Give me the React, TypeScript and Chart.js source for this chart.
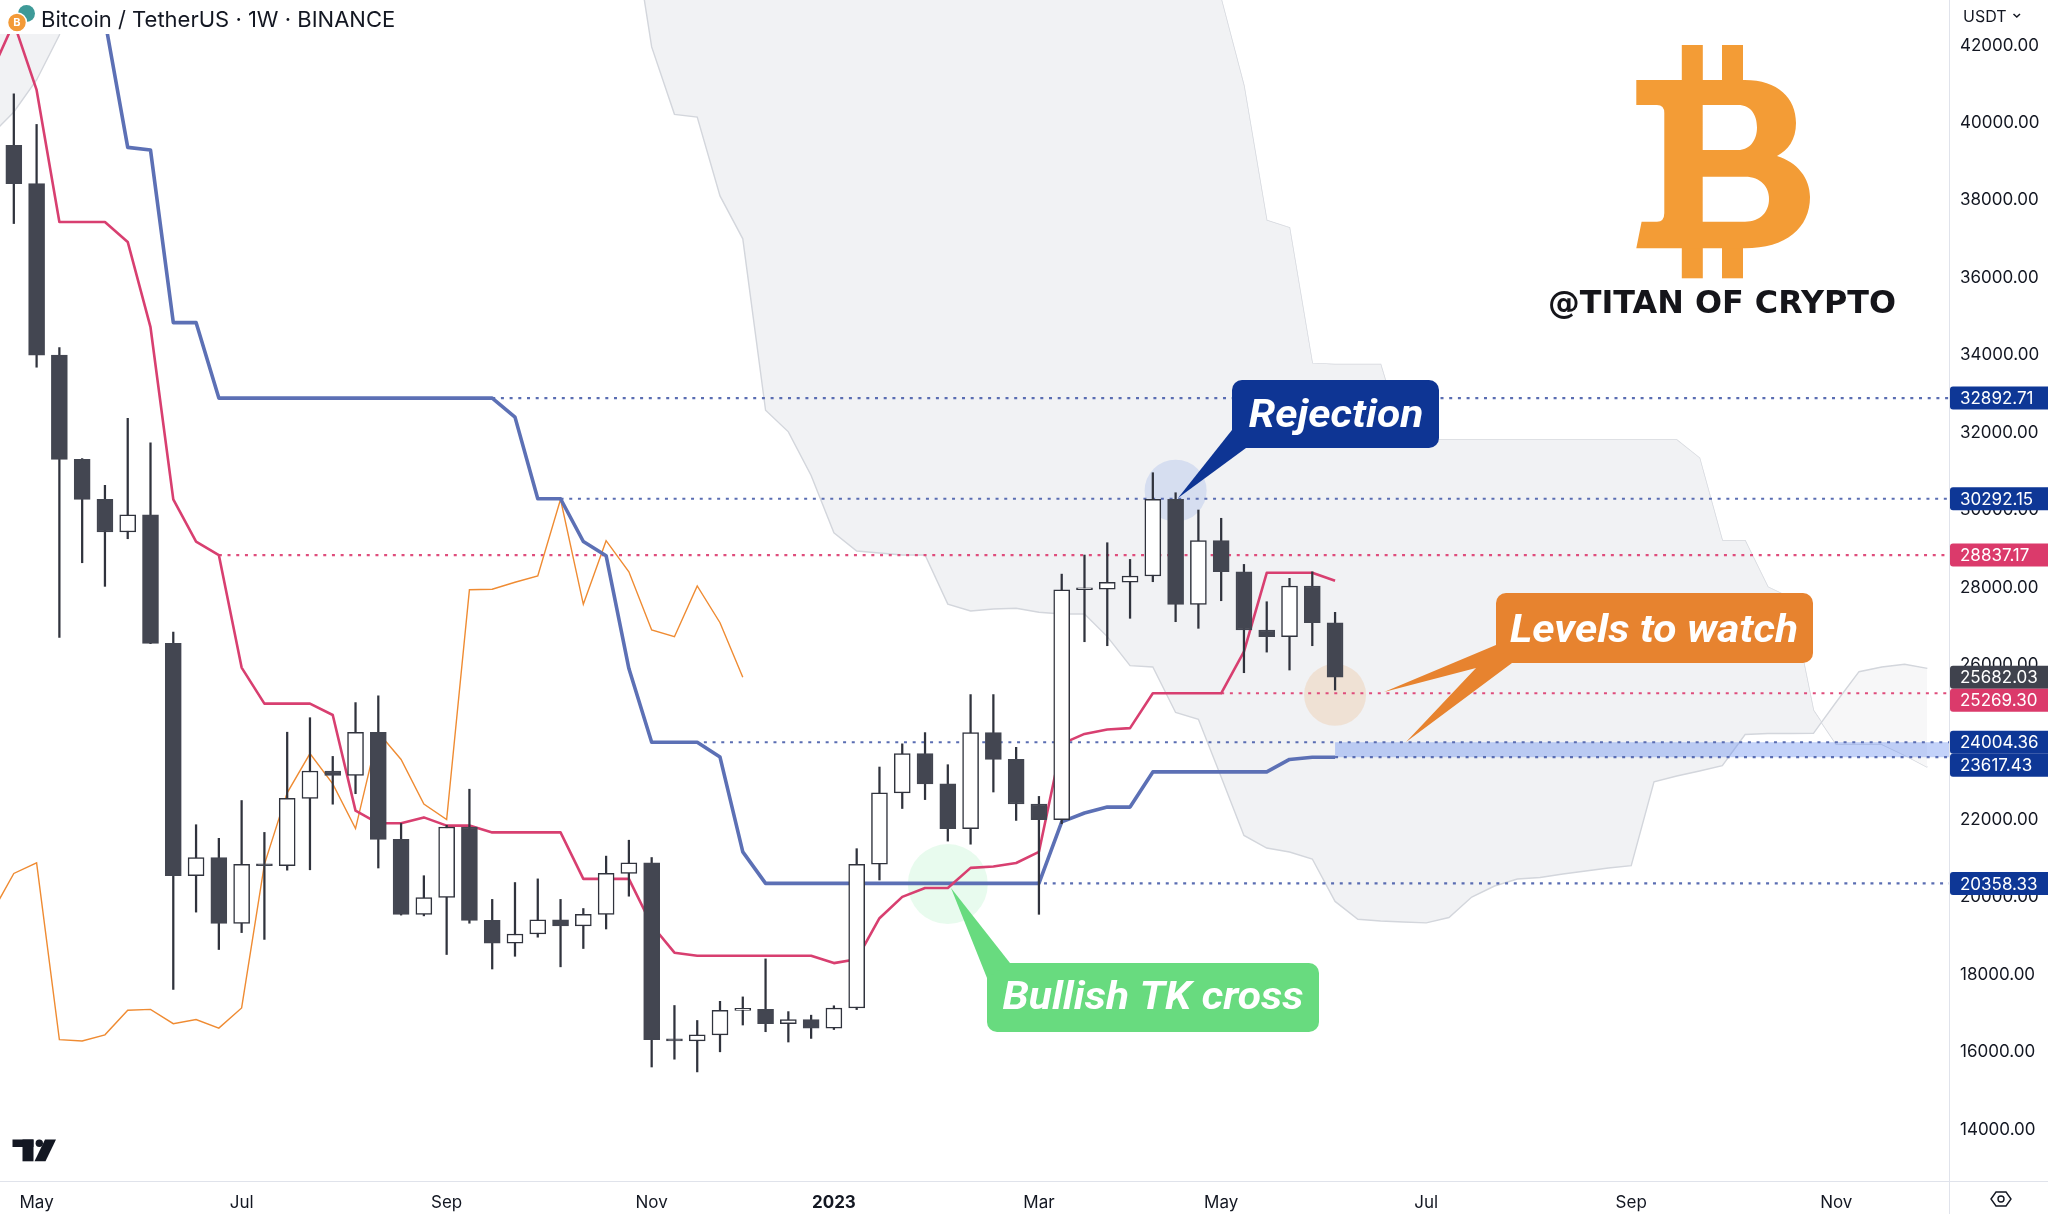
import React, { useEffect, useRef } from "react";
import { Chart, registerables } from "chart.js";

Chart.register(...registerables);

// ---------------- data (weekly BTC/USDT, week 0 = week of 2 May 2022) ----------------
const FIRST_WEEK = -2;
const opens = [
  39678, 39420, 38430, 34000, 31310, 30275, 29434, 29880, 26557, 20557,
  21027, 19323, 20852, 20815, 22556, 23261, 23145, 24263, 21497, 19558,
  19994, 21815, 19405, 18817, 19051, 19416, 19263, 19558, 20616, 20888,
  16324, 16290, 16448, 17081, 17104, 16735, 16841, 16621, 17141, 20852,
  22696, 23711, 22928, 21774, 24253, 23560, 22409, 22006, 27943, 27955,
  28135, 28297, 30278, 27566, 29210, 28408, 26902, 26729, 28040, 27091,
];
const highs = [
  42976, 40750, 39960, 34200, 31330, 30640, 32370, 31737, 26851, 21874,
  21523, 22499, 21675, 24263, 24638, 23638, 25028, 25203, 21906, 20557,
  21860, 22791, 19945, 20381, 20475, 19945, 19710, 21063, 21474, 21027,
  17205, 16818, 17313, 17427, 18408, 17047, 16955, 17198, 21255, 23364,
  23963, 24253, 23424, 25235, 25235, 23873, 22605, 28346, 28839, 29157,
  28726, 30965, 30448, 30002, 29788, 28597, 27633, 28238, 28405, 27360,
];
const lows = [
  38536, 37400, 33690, 26710, 28640, 28030, 29260, 26550, 17618, 19617,
  18651, 19088, 18912, 20700, 20710, 22404, 22675, 20756, 19540, 19520,
  18522, 19330, 18148, 18476, 18969, 18204, 18677, 19181, 20028, 15617,
  15818, 15490, 16009, 16701, 16528, 16262, 16355, 16585, 17100, 20446,
  22293, 22523, 21451, 21371, 22719, 21985, 19560, 21900, 26600, 26497,
  27205, 28150, 27117, 26946, 27659, 25800, 26332, 25869, 26497, 25353,
];
const closes = [
  39450, 38430, 34000, 31310, 30275, 29434, 29880, 26557, 20557, 21027,
  19323, 20852, 20815, 22556, 23261, 23145, 24263, 21497, 19558, 19994,
  21815, 19405, 18817, 19051, 19416, 19263, 19558, 20616, 20888, 16324,
  16290, 16448, 17081, 17104, 16735, 16841, 16621, 17141, 20852, 22696,
  23711, 22928, 21774, 24253, 23560, 22409, 22006, 27943, 27955, 28135,
  28297, 30278, 27566, 29210, 28408, 26902, 26729, 28040, 27091, 25682.03,
];

// Ichimoku conversion line (red) and base line (blue), same weeks as the candles
const tenkanLine = [
  41280, 42590, 40851, 37440, 37440, 37440, 36926, 34723, 30275, 29188,
  28837.17, 25932, 25002, 25002, 25002, 24707, 22238, 21911, 21911, 22063,
  21851, 21851, 21676, 21676, 21676, 21676, 20475, 20475, 20475, 19284,
  18569, 18489, 18489, 18489, 18489, 18489, 18489, 18300, 18400, 19460,
  20010, 20240, 20240, 20759, 20795, 20885, 21174, 23963, 24219, 24333,
  24369, 25269.3, 25269.3, 25269.3, 25269.3, 26345, 28380, 28380, 28380, 28173,
];
const kijunLine = [
  50950, 50950, 50950, 46490, 43050, 42650, 39368, 39299, 34842, 34842,
  32892.71, 32892.71, 32892.71, 32892.71, 32892.71, 32892.71, 32892.71, 32892.71, 32892.71, 32892.71,
  32892.71, 32892.71, 32892.71, 32401, 30292.15, 30292.15, 29188, 28822, 25908, 24004.36,
  24004.36, 24004.36, 23620, 21174, 20358.33, 20358.33, 20358.33, 20358.33, 20358.33, 20358.33,
  20358.33, 20358.33, 20358.33, 20358.33, 20358.33, 20358.33, 20358.33, 21947, 22177, 22329,
  22329, 23238, 23238, 23238, 23238, 23238, 23238, 23560, 23617.43, 23617.43,
];

// Cloud (leading spans), weeks -2 .. 83; values above the top of the chart are estimates, null = not drawn
const CLOUD_FIRST = -2;
const cloudSpanUpper = [
  45000, 45000, 45000, 45000, 45000,
  null, null, null, null, null, null, null, null, null, null, null, null,
  null, null, null, null, null, null, null, null, null, null, null,
  46000, 46000, 46000, 46000, 46000, 46000, 46000, 46000, 46000, 46000,
  46000, 46000, 46000, 46000, 46000, 46000, 46000, 46000, 46000, 46000,
  46000, 46000, 46000, 46000, 46000, 46000,
  43200, 40960, 37481, 37290, 33790, 33759, 33759, 33759, 31810, 31810,
  31810, 31810, 31810, 31810, 31810, 31810, 31810, 31810, 31810, 31810,
  31810, 31344, 29209, 29209, 28013, 27729, 24826, 23951, 23951, 23951,
  23670, 23360,
];
const cloudSpanLower = [
  39686, 40281, 41108, 42269, 44300,
  null, null, null, null, null, null, null, null, null, null, null, null,
  null, null, null, null, null, null, null, null, null, null, null,
  45730, 41962, 40221, 40149, 38114, 37006, 32579, 32021, 30893, 29415,
  28943, 28891, 28840, 28840, 27571, 27393, 27445, 27466, 27362, 27316,
  27316, 26732, 25983, 25947, 24772, 24596,
  23106, 21598, 21273, 21169, 20989, 19893, 19431, 19387, 19361, 19338,
  19478, 20007, 20291, 20472, 20511, 20601, 20679, 20756, 20815, 22982,
  23132, 23261, 23398, 24204, 24230, 24230, 24235, 25043, 25826, 25947,
  26017, 25913,
];
const LAGGING_SHIFT = 26;
const LAGGING_FROM_WEEK = 24;

const timeTickWeeks = [0, 9, 18, 27, 35, 44, 52, 61, 70, 79];
const timeTickLabels = ["May", "Jul", "Sep", "Nov", "2023", "Mar", "May", "Jul", "Sep", "Nov"];
const priceTicks = [14000, 16000, 18000, 20000, 22000, 24000, 26000, 28000, 30000, 32000, 34000, 36000, 38000, 40000, 42000];

const levelPrices = [32892.71, 30292.15, 28837.17, 25269.3, 24004.36, 23617.43, 20358.33];
const levelStartWeeks = [20, 23, 8, 52, 27, 57, 32];
const levelKinds = ["base", "base", "conv", "conv", "base", "base", "base"];
const lastPrice = 25682.03;

// ---------------- styling ----------------
const FONT = "Inter, Roboto, 'Noto Sans', sans-serif";
const C_TEXT = "#131722";
const C_BLUE = "#5c70b5";
const C_RED = "#d83f70";
const C_ORANGE = "#ef8b32";
const C_DOWN = "#434651";
const C_EDGE = "#30333d";
const C_BADGE_BLUE = "#0e3796";
const C_BADGE_RED = "#db3a6b";
const C_BADGE_GRAY = "#3f424d";

function rr(ctx: CanvasRenderingContext2D, x: number, y: number, w: number, h: number, r: number) {
  ctx.beginPath();
  ctx.moveTo(x + r, y);
  ctx.arcTo(x + w, y, x + w, y + h, r);
  ctx.arcTo(x + w, y + h, x, y + h, r);
  ctx.arcTo(x, y + h, x, y, r);
  ctx.arcTo(x, y, x + w, y, r);
  ctx.closePath();
}

function callout(
  ctx: CanvasRenderingContext2D,
  box: [number, number, number, number],
  pointer: number[][],
  color: string,
  text: string,
  tx: number,
  ty: number
) {
  ctx.save();
  ctx.fillStyle = color;
  rr(ctx, box[0], box[1], box[2], box[3], 10);
  ctx.fill();
  ctx.beginPath();
  pointer.forEach((p, i) => (i === 0 ? ctx.moveTo(p[0], p[1]) : ctx.lineTo(p[0], p[1])));
  ctx.closePath();
  ctx.fill();
  ctx.fillStyle = "#ffffff";
  ctx.font = "italic bold 38px Roboto, 'Liberation Sans', sans-serif";
  ctx.textAlign = "center";
  ctx.textBaseline = "alphabetic";
  // wider display face: stretch horizontally
  const sx = 1.12;
  ctx.translate(tx, ty);
  ctx.scale(sx, 1);
  ctx.fillText(text, 0, 0, (box[2] - 24) / sx);
  ctx.restore();
}

function drawBitcoin(ctx: CanvasRenderingContext2D) {
  ctx.save();
  ctx.fillStyle = "#f39c36";
  ctx.fillRect(1681.8, 45, 21, 37);
  ctx.fillRect(1722, 45, 21, 37);
  ctx.fillRect(1681.8, 246, 21, 32.3);
  ctx.fillRect(1722, 246, 21, 32.3);
  ctx.beginPath();
  ctx.moveTo(1636.3, 80);
  ctx.lineTo(1744.7, 80);
  ctx.bezierCurveTo(1778, 80, 1796, 98, 1796, 123);
  ctx.bezierCurveTo(1796, 140, 1788, 150, 1777, 156);
  ctx.bezierCurveTo(1797, 162, 1810, 178, 1810, 197);
  ctx.bezierCurveTo(1810, 228, 1786, 248.3, 1744.7, 248.3);
  ctx.lineTo(1636.3, 248.3);
  ctx.lineTo(1641.6, 221.7);
  ctx.lineTo(1657, 221.7);
  ctx.quadraticCurveTo(1664.3, 221.7, 1664.3, 213);
  ctx.lineTo(1664.3, 113);
  ctx.quadraticCurveTo(1664.3, 105, 1657, 105);
  ctx.lineTo(1636.3, 105);
  ctx.closePath();
  ctx.moveTo(1702.7, 105);
  ctx.lineTo(1738, 105);
  ctx.bezierCurveTo(1751, 105, 1757, 115, 1757, 127.5);
  ctx.bezierCurveTo(1757, 140, 1750, 150, 1738, 150);
  ctx.lineTo(1702.7, 150);
  ctx.closePath();
  ctx.moveTo(1702.7, 176.7);
  ctx.lineTo(1745, 176.7);
  ctx.bezierCurveTo(1761, 176.7, 1769, 187, 1769, 199);
  ctx.bezierCurveTo(1769, 212, 1760, 221.7, 1745, 221.7);
  ctx.lineTo(1702.7, 221.7);
  ctx.closePath();
  ctx.fill("evenodd");
  ctx.fillStyle = "#15151a";
  ctx.font = "bold 32px 'DejaVu Sans', sans-serif";
  ctx.textAlign = "left";
  ctx.textBaseline = "alphabetic";
  ctx.fillText("@TITAN OF CRYPTO", 1548, 313, 348);
  ctx.restore();
}

const overlayPlugin = {
  id: "overlay",
  afterDatasetDraw(chart: any, args: any) {
    if (args.index !== 1) return;
    const { ctx, chartArea } = chart;
    const x = chart.scales.x;
    const y = chart.scales.y;
    ctx.save();
    ctx.beginPath();
    ctx.rect(chartArea.left, chartArea.top, chartArea.right - chartArea.left, chartArea.bottom - chartArea.top);
    ctx.clip();
    // highlighted zone between the two lower levels
    const bx = x.getPixelForValue(57);
    const by1 = y.getPixelForValue(levelPrices[4]);
    const by2 = y.getPixelForValue(levelPrices[5]);
    ctx.fillStyle = "rgba(98,136,240,0.38)";
    ctx.fillRect(bx, by1, chartArea.right - bx, by2 - by1);
    const circ = (cx: number, cy: number, r: number, col: string) => {
      ctx.beginPath();
      ctx.arc(cx, cy, r, 0, Math.PI * 2);
      ctx.fillStyle = col;
      ctx.fill();
    };
    circ(x.getPixelForValue(50), y.getPixelForValue(30500), 31, "rgba(120,148,228,0.22)");
    circ(x.getPixelForValue(57), y.getPixelForValue(25230), 31, "rgba(236,172,112,0.24)");
    circ(x.getPixelForValue(40), y.getPixelForValue(20340), 40, "rgba(100,228,140,0.15)");
    ctx.restore();
  },
  afterDraw(chart: any) {
    const { ctx } = chart;
    const y = chart.scales.y;
    ctx.save();
    // axis separators extended across the corners
    ctx.strokeStyle = "#e0e3eb";
    ctx.lineWidth = 1;
    ctx.beginPath();
    ctx.moveTo(0, 1181.5);
    ctx.lineTo(2048, 1181.5);
    ctx.moveTo(1949.5, 0);
    ctx.lineTo(1949.5, 1214);
    ctx.stroke();

    // title
    ctx.fillStyle = "#ffffff";
    ctx.fillRect(0, 0, 406, 34);
    ctx.beginPath();
    ctx.arc(26.5, 13.5, 8.5, 0, Math.PI * 2);
    ctx.fillStyle = "#3e9a98";
    ctx.fill();
    ctx.beginPath();
    ctx.arc(17, 22.5, 9.5, 0, Math.PI * 2);
    ctx.fillStyle = "#f39a37";
    ctx.fill();
    ctx.lineWidth = 1.5;
    ctx.strokeStyle = "#ffffff";
    ctx.stroke();
    ctx.fillStyle = "#ffffff";
    ctx.font = "bold 11px " + FONT;
    ctx.textAlign = "center";
    ctx.textBaseline = "middle";
    ctx.fillText("B", 17, 23);
    ctx.fillStyle = C_TEXT;
    ctx.font = "22px " + FONT;
    ctx.textAlign = "left";
    ctx.textBaseline = "alphabetic";
    ctx.fillText("Bitcoin / TetherUS \u00b7 1W \u00b7 BINANCE", 41, 27, 360);

    // currency label
    ctx.font = "16px " + FONT;
    ctx.fillText("USDT", 1963, 21.5);
    ctx.strokeStyle = C_TEXT;
    ctx.lineWidth = 1.5;
    ctx.beginPath();
    ctx.moveTo(2013.5, 14);
    ctx.lineTo(2016.8, 17);
    ctx.lineTo(2020, 14);
    ctx.stroke();

    // price badges on the axis
    const badges = [
      { p: levelPrices[0], c: C_BADGE_BLUE },
      { p: levelPrices[1], c: C_BADGE_BLUE },
      { p: levelPrices[2], c: C_BADGE_RED },
      { p: lastPrice, c: C_BADGE_GRAY },
      { p: levelPrices[3], c: C_BADGE_RED },
      { p: levelPrices[4], c: C_BADGE_BLUE },
      { p: levelPrices[5], c: C_BADGE_BLUE },
      { p: levelPrices[6], c: C_BADGE_BLUE },
    ];
    const H = 23;
    let prevBottom = -1000;
    badges.forEach((b) => {
      let cy = y.getPixelForValue(b.p);
      if (cy - H / 2 < prevBottom) cy = prevBottom + H / 2;
      prevBottom = cy + H / 2;
      ctx.fillStyle = b.c;
      rr(ctx, 1950, cy - H / 2, 104, H, 3);
      ctx.fill();
      ctx.fillStyle = "#ffffff";
      ctx.font = "17px " + FONT;
      ctx.textAlign = "left";
      ctx.textBaseline = "middle";
      ctx.fillText(b.p.toFixed(2), 1960, cy + 1);
    });

    // callouts
    callout(ctx, [1232, 380, 207, 68], [[1232, 430], [1178, 498], [1246, 448]], "#0e3594", "Rejection", 1336, 427);
    callout(
      ctx,
      [1496, 593, 317, 70],
      [[1496, 645], [1384, 692], [1476, 668], [1406, 742], [1512, 663]],
      "#e7832f",
      "Levels to watch",
      1654,
      642
    );
    callout(ctx, [987, 963, 332, 69], [[987, 978], [951, 888], [1010, 963]], "#68db7f", "Bullish TK cross", 1153, 1009);

    drawBitcoin(ctx);

    // TradingView mark
    ctx.fillStyle = C_TEXT;
    ctx.fillRect(12.5, 1139.5, 21, 7.5);
    ctx.fillRect(22.5, 1139.5, 11, 21.8);
    ctx.beginPath();
    ctx.arc(39.3, 1143.3, 3.7, 0, Math.PI * 2);
    ctx.fill();
    ctx.beginPath();
    ctx.moveTo(45, 1139.5);
    ctx.lineTo(56, 1139.5);
    ctx.lineTo(45.5, 1161.3);
    ctx.lineTo(34.5, 1161.3);
    ctx.closePath();
    ctx.fill();

    // settings icon bottom right
    ctx.strokeStyle = C_TEXT;
    ctx.lineWidth = 1.4;
    ctx.beginPath();
    ctx.moveTo(1991, 1199);
    ctx.lineTo(1996, 1192);
    ctx.lineTo(2006, 1192);
    ctx.lineTo(2011, 1199);
    ctx.lineTo(2006, 1206);
    ctx.lineTo(1996, 1206);
    ctx.closePath();
    ctx.stroke();
    ctx.beginPath();
    ctx.arc(2001, 1199, 3, 0, Math.PI * 2);
    ctx.stroke();
    ctx.restore();
  },
};

export default function App() {
  const ref = useRef<HTMLCanvasElement>(null);
  useEffect(() => {
    const canvas = ref.current;
    if (!canvas) return;
    const weeks = opens.map((_, k) => FIRST_WEEK + k);
    const cloudWeeks = cloudSpanUpper.map((_, k) => CLOUD_FIRST + k);

    const levelSets = levelPrices.map((p, k) => ({
      type: "line" as const,
      data: [
        { x: levelStartWeeks[k], y: p },
        { x: 84, y: p },
      ],
      borderColor: levelKinds[k] === "conv" ? "#df4d7c" : "#5a6db2",
      borderWidth: 2.2,
      borderDash: [3, 5.7],
      borderCapStyle: "butt" as const,
      pointRadius: 0,
      fill: false,
      order: 90,
    }));

    const lagging = closes
      .map((c, k) => ({ w: FIRST_WEEK + k, c }))
      .filter((d) => d.w >= LAGGING_FROM_WEEK)
      .map((d) => ({ x: d.w - LAGGING_SHIFT, y: d.c }));

    const datasets: any[] = [
      {
        type: "line",
        data: cloudWeeks.map((w, k) => ({ x: w, y: cloudSpanUpper[k] })),
        borderColor: "#d3d6dc",
        borderWidth: 1.4,
        pointRadius: 0,
        tension: 0,
        fill: false,
        spanGaps: false,
        order: 100,
      },
      {
        type: "line",
        data: cloudWeeks.map((w, k) => ({ x: w, y: cloudSpanLower[k] })),
        borderColor: "#d3d6dc",
        borderWidth: 1.4,
        pointRadius: 0,
        tension: 0,
        spanGaps: false,
        fill: { target: 0, above: "#f7f7f8", below: "#f1f2f4" },
        order: 99,
      },
      ...levelSets,
      {
        type: "line",
        data: lagging,
        borderColor: C_ORANGE,
        borderWidth: 1.4,
        pointRadius: 0,
        tension: 0,
        fill: false,
        order: 80,
      },
      {
        type: "line",
        data: weeks.map((w, k) => ({ x: w, y: kijunLine[k] })),
        borderColor: C_BLUE,
        borderWidth: 3.6,
        borderJoinStyle: "round",
        pointRadius: 0,
        tension: 0,
        fill: false,
        order: 70,
      },
      {
        type: "line",
        data: weeks.map((w, k) => ({ x: w, y: tenkanLine[k] })),
        borderColor: C_RED,
        borderWidth: 2.6,
        borderJoinStyle: "round",
        pointRadius: 0,
        tension: 0,
        fill: false,
        order: 60,
      },
      {
        type: "bar",
        data: weeks.map((w, k) => ({ x: w, y: [lows[k], highs[k]] })),
        backgroundColor: C_EDGE,
        borderWidth: 0,
        barThickness: 1.6,
        grouped: false,
        order: 20,
      },
      {
        type: "bar",
        data: weeks.map((w, k) => ({ x: w, y: [opens[k], closes[k]] })),
        backgroundColor: (c: any) => (closes[c.dataIndex] >= opens[c.dataIndex] ? "#ffffff" : C_DOWN),
        borderColor: (c: any) => (closes[c.dataIndex] >= opens[c.dataIndex] ? C_EDGE : C_DOWN),
        borderWidth: 1.5,
        borderSkipped: false,
        barThickness: 16,
        minBarLength: 2,
        grouped: false,
        order: 10,
      },
    ];

    const chart = new Chart(canvas, {
      type: "line",
      data: { datasets },
      options: {
        animation: false,
        responsive: false,
        devicePixelRatio: 1,
        events: [],
        layout: { padding: 0 },
        plugins: { legend: { display: false }, tooltip: { enabled: false } },
        scales: {
          x: {
            type: "linear",
            min: -1.6067,
            max: 83.95,
            offset: false,
            grid: { display: false, drawTicks: false },
            border: { display: true, color: "#e0e3eb" },
            ticks: {
              autoSkip: false,
              maxRotation: 0,
              padding: 12,
              color: C_TEXT,
              font: (c: any) => ({
                family: FONT,
                size: 17,
                weight: c.tick && c.tick.value === 35 ? "bold" : "normal",
              }),
              callback: (v: any) => {
                const i = timeTickWeeks.indexOf(Number(v));
                return i >= 0 ? timeTickLabels[i] : "";
              },
            },
            afterBuildTicks: (s: any) => {
              s.ticks = timeTickWeeks.map((v) => ({ value: v }));
            },
            afterFit: (s: any) => {
              s.height = 33;
              s.paddingLeft = 0;
              s.paddingRight = 0;
            },
          },
          y: {
            type: "linear",
            position: "right",
            min: 12672.5,
            max: 43173.6,
            grid: { display: false, drawTicks: false },
            border: { display: true, color: "#e0e3eb" },
            ticks: {
              padding: 11,
              color: C_TEXT,
              font: { family: FONT, size: 17 },
              callback: (v: any) => Number(v).toFixed(2),
            },
            afterBuildTicks: (s: any) => {
              s.ticks = priceTicks.map((v) => ({ value: v }));
            },
            afterFit: (s: any) => {
              s.width = 99;
              s.paddingTop = 0;
              s.paddingBottom = 0;
            },
          },
        },
      },
      plugins: [overlayPlugin],
    } as any);
    return () => chart.destroy();
  }, []);

  return (
    <div style={{ position: "fixed", left: 0, top: 0, width: 2048, height: 1214, background: "#ffffff" }}>
      <canvas ref={ref} width={2048} height={1214} style={{ display: "block", width: 2048, height: 1214 }} />
    </div>
  );
}
